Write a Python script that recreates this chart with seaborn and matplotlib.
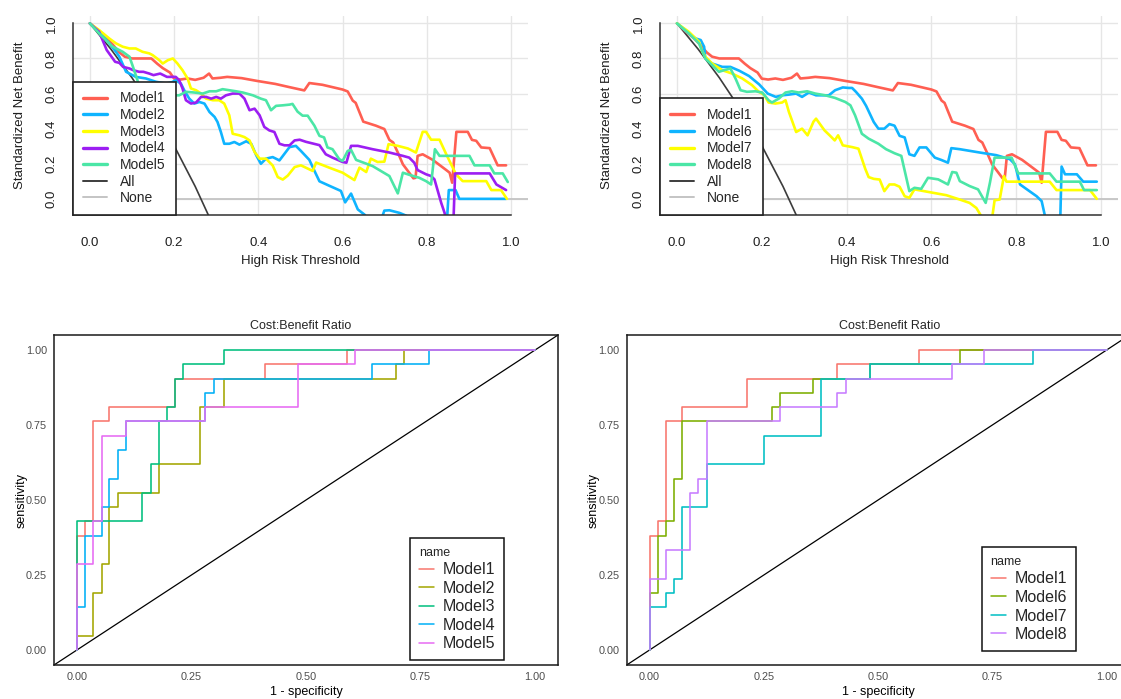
import numpy as np
import pandas as pd
import matplotlib
matplotlib.use("Agg")
import matplotlib.pyplot as plt
from matplotlib.lines import Line2D
import seaborn as sns

# ---------------- Decision curves: threshold vs standardized net benefit ----------------
m1_thr = [0, 0.02, 0.04, 0.054, 0.07, 0.083, 0.1, 0.12, 0.146, 0.16, 0.173, 0.19, 0.2, 0.215, 0.232,
          0.25, 0.27, 0.283, 0.291, 0.31, 0.326, 0.36, 0.397, 0.44, 0.473, 0.509, 0.521, 0.552, 0.6,
          0.612, 0.624, 0.631, 0.649, 0.679, 0.699, 0.711, 0.72, 0.731, 0.743, 0.758, 0.768, 0.773,
          0.778, 0.79, 0.814, 0.846, 0.854, 0.86, 0.87, 0.897, 0.907, 0.917, 0.929, 0.949, 0.968, 0.988]
m1_nb = [1.0, 0.955, 0.915, 0.88, 0.835, 0.81, 0.80, 0.80, 0.80, 0.77, 0.745, 0.72, 0.685, 0.68, 0.686,
         0.678, 0.69, 0.714, 0.686, 0.69, 0.695, 0.688, 0.672, 0.655, 0.637, 0.618, 0.66, 0.65, 0.623,
         0.612, 0.56, 0.547, 0.44, 0.417, 0.398, 0.336, 0.321, 0.264, 0.197, 0.149, 0.117, 0.12,
         0.245, 0.254, 0.222, 0.164, 0.149, 0.092, 0.382, 0.382, 0.336, 0.331, 0.293, 0.289, 0.191, 0.191]

m2_thr = [0, 0.022, 0.046, 0.062, 0.07, 0.086, 0.109, 0.133, 0.157, 0.181, 0.195, 0.204, 0.216, 0.224,
          0.236, 0.248, 0.26, 0.272, 0.284, 0.296, 0.303, 0.311, 0.319, 0.331, 0.343, 0.355, 0.371,
          0.383, 0.395, 0.406, 0.418, 0.434, 0.45, 0.462, 0.474, 0.489, 0.501, 0.521, 0.535, 0.545,
          0.568, 0.596, 0.606, 0.62, 0.636, 0.652, 0.665, 0.69, 0.699, 0.711, 0.735, 0.751, 0.76,
          0.80, 0.847, 0.852, 0.868, 0.877, 0.988]
m2_nb = [1.0, 0.952, 0.886, 0.838, 0.81, 0.724, 0.695, 0.686, 0.667, 0.657, 0.665, 0.676, 0.657, 0.619,
         0.571, 0.543, 0.552, 0.543, 0.495, 0.467, 0.438, 0.381, 0.314, 0.314, 0.324, 0.309, 0.328,
         0.314, 0.248, 0.2, 0.229, 0.238, 0.219, 0.257, 0.295, 0.302, 0.273, 0.222, 0.15, 0.10,
         0.075, 0.045, -0.02, 0.03, -0.06, -0.09, -0.13, -0.13, -0.067, -0.065, -0.08, -0.096, -0.15,
         -0.2, -0.15, 0.05, 0.05, 0.0, 0.0]

m3_thr = [0, 0.022, 0.046, 0.062, 0.078, 0.094, 0.109, 0.125, 0.141, 0.149, 0.165, 0.173, 0.185, 0.197,
          0.208, 0.22, 0.232, 0.24, 0.252, 0.264, 0.276, 0.292, 0.307, 0.319, 0.331, 0.339, 0.355,
          0.367, 0.379, 0.391, 0.403, 0.418, 0.434, 0.446, 0.458, 0.47, 0.486, 0.501, 0.529, 0.537,
          0.568, 0.6, 0.628, 0.64, 0.656, 0.667, 0.683, 0.699, 0.709, 0.731, 0.755, 0.774, 0.79,
          0.798, 0.81, 0.83, 0.846, 0.869, 0.885, 0.941, 0.953, 0.976, 0.99]
m3_nb = [1.0, 0.962, 0.914, 0.886, 0.867, 0.857, 0.857, 0.838, 0.829, 0.819, 0.79, 0.771, 0.79, 0.80,
         0.771, 0.733, 0.686, 0.629, 0.619, 0.60, 0.571, 0.562, 0.562, 0.543, 0.476, 0.371, 0.362,
         0.352, 0.333, 0.267, 0.229, 0.229, 0.19, 0.124, 0.11, 0.133, 0.181, 0.191, 0.159, 0.207,
         0.178, 0.149, 0.107, 0.178, 0.153, 0.229, 0.21, 0.212, 0.312, 0.302, 0.287, 0.264, 0.382,
         0.382, 0.337, 0.337, 0.254, 0.14, 0.101, 0.101, 0.05, 0.05, 0.0]

m4_thr = [0, 0.022, 0.04, 0.06, 0.07, 0.079, 0.094, 0.103, 0.117, 0.127, 0.141, 0.151, 0.167, 0.183,
          0.198, 0.204, 0.212, 0.22, 0.228, 0.24, 0.252, 0.264, 0.276, 0.288, 0.3, 0.311, 0.323,
          0.339, 0.355, 0.367, 0.379, 0.391, 0.403, 0.414, 0.426, 0.438, 0.45, 0.462, 0.474, 0.486,
          0.498, 0.513, 0.545, 0.56, 0.576, 0.6, 0.609, 0.62, 0.636, 0.671, 0.711, 0.743, 0.758,
          0.77, 0.778, 0.798, 0.81, 0.818, 0.826, 0.834, 0.842, 0.85, 0.862, 0.867, 0.949, 0.965, 0.988]
m4_nb = [1.0, 0.952, 0.848, 0.781, 0.775, 0.752, 0.743, 0.733, 0.724, 0.724, 0.714, 0.705, 0.714, 0.695,
         0.695, 0.695, 0.676, 0.629, 0.562, 0.543, 0.549, 0.581, 0.581, 0.571, 0.581, 0.571, 0.59,
         0.60, 0.60, 0.571, 0.505, 0.514, 0.476, 0.41, 0.39, 0.381, 0.314, 0.305, 0.305, 0.333,
         0.337, 0.325, 0.306, 0.254, 0.235, 0.21, 0.206, 0.302, 0.302, 0.283, 0.264, 0.245, 0.235,
         0.206, 0.164, 0.14, 0.13, 0.111, 0.044, -0.023, -0.08, -0.2, -0.2, 0.145, 0.145, 0.082, 0.05]

m5_thr = [0, 0.022, 0.054, 0.078, 0.094, 0.101, 0.113, 0.12, 0.15, 0.187, 0.2, 0.212, 0.228, 0.248,
          0.268, 0.284, 0.3, 0.315, 0.331, 0.347, 0.363, 0.387, 0.406, 0.418, 0.43, 0.442, 0.458,
          0.474, 0.481, 0.493, 0.505, 0.517, 0.533, 0.545, 0.556, 0.564, 0.576, 0.592, 0.6, 0.612,
          0.62, 0.632, 0.671, 0.711, 0.731, 0.743, 0.762, 0.782, 0.798, 0.81, 0.819, 0.83, 0.869,
          0.901, 0.913, 0.949, 0.96, 0.98, 0.992]
m5_nb = [1.0, 0.943, 0.867, 0.838, 0.81, 0.762, 0.676, 0.60, 0.59, 0.59, 0.59, 0.59, 0.61, 0.606, 0.60,
         0.613, 0.613, 0.625, 0.619, 0.613, 0.606, 0.59, 0.571, 0.562, 0.505, 0.53, 0.533, 0.537,
         0.541, 0.497, 0.474, 0.474, 0.417, 0.359, 0.35, 0.293, 0.283, 0.226, 0.216, 0.273, 0.279,
         0.222, 0.187, 0.13, 0.031, 0.149, 0.134, 0.12, 0.101, 0.082, 0.283, 0.245, 0.245, 0.245,
         0.191, 0.191, 0.145, 0.145, 0.096]

m6_thr = [0, 0.028, 0.044, 0.056, 0.064, 0.067, 0.083, 0.107, 0.126, 0.147, 0.17, 0.194, 0.214, 0.233,
          0.248, 0.264, 0.281, 0.295, 0.311, 0.328, 0.358, 0.373, 0.391, 0.405, 0.413, 0.422, 0.436,
          0.446, 0.464, 0.475, 0.489, 0.501, 0.513, 0.525, 0.537, 0.548, 0.56, 0.572, 0.588, 0.608,
          0.623, 0.639, 0.647, 0.667, 0.714, 0.753, 0.785, 0.797, 0.809, 0.848, 0.86, 0.868, 0.88,
          0.903, 0.907, 0.915, 0.943, 0.958, 0.99]
m6_nb = [1.0, 0.943, 0.914, 0.905, 0.867, 0.80, 0.771, 0.752, 0.752, 0.73, 0.70, 0.652, 0.60, 0.581,
         0.59, 0.594, 0.60, 0.581, 0.606, 0.59, 0.59, 0.619, 0.635, 0.632, 0.632, 0.61, 0.571, 0.53,
         0.438, 0.40, 0.40, 0.426, 0.417, 0.359, 0.35, 0.254, 0.245, 0.293, 0.293, 0.235, 0.222,
         0.206, 0.289, 0.283, 0.264, 0.249, 0.226, 0.197, 0.082, 0.015, -0.013, -0.1, -0.2, -0.2,
         0.184, 0.14, 0.14, 0.098, 0.098]

m7_thr = [0, 0.028, 0.052, 0.06, 0.067, 0.083, 0.107, 0.13, 0.154, 0.177, 0.193, 0.205, 0.216, 0.232,
          0.248, 0.256, 0.264, 0.281, 0.295, 0.308, 0.322, 0.328, 0.348, 0.36, 0.372, 0.38, 0.391,
          0.413, 0.428, 0.444, 0.452, 0.464, 0.478, 0.489, 0.501, 0.513, 0.525, 0.537, 0.548, 0.56,
          0.596, 0.635, 0.667, 0.69, 0.706, 0.718, 0.742, 0.749, 0.761, 0.771, 0.777, 0.879, 0.895,
          0.974, 0.99]
m7_nb = [1.0, 0.952, 0.895, 0.838, 0.81, 0.771, 0.733, 0.714, 0.686, 0.648, 0.61, 0.594, 0.549, 0.543,
         0.549, 0.562, 0.495, 0.381, 0.40, 0.362, 0.44, 0.457, 0.39, 0.362, 0.333, 0.362, 0.305,
         0.295, 0.286, 0.171, 0.124, 0.114, 0.11, 0.044, 0.082, 0.082, 0.069, 0.015, 0.006, 0.054,
         0.038, 0.021, -0.004, -0.023, -0.052, -0.1, -0.13, -0.008, -0.004, 0.13, 0.098, 0.098,
         0.05, 0.05, 0.0]

m8_thr = [0, 0.028, 0.052, 0.067, 0.083, 0.099, 0.111, 0.126, 0.138, 0.15, 0.165, 0.185, 0.201, 0.216,
          0.224, 0.24, 0.256, 0.271, 0.287, 0.307, 0.326, 0.35, 0.373, 0.397, 0.409, 0.42, 0.436,
          0.452, 0.475, 0.493, 0.513, 0.529, 0.548, 0.56, 0.576, 0.592, 0.616, 0.639, 0.649, 0.659,
          0.667, 0.69, 0.71, 0.728, 0.738, 0.749, 0.789, 0.805, 0.879, 0.895, 0.95, 0.96, 0.99]
m8_nb = [1.0, 0.943, 0.886, 0.80, 0.762, 0.724, 0.733, 0.743, 0.686, 0.619, 0.61, 0.613, 0.606, 0.562,
         0.549, 0.571, 0.606, 0.613, 0.606, 0.613, 0.60, 0.59, 0.575, 0.552, 0.533, 0.476, 0.371,
         0.343, 0.314, 0.283, 0.26, 0.245, 0.044, 0.063, 0.057, 0.12, 0.111, 0.082, 0.153, 0.149,
         0.101, 0.073, 0.054, -0.023, 0.092, 0.235, 0.235, 0.145, 0.145, 0.098, 0.098, 0.05, 0.05]

# treat-all reference curve
all_thr = [0, 0.05, 0.1, 0.15, 0.2, 0.25, 0.3]
all_nb = [1.0, 0.853, 0.69, 0.508, 0.303, 0.071, -0.19]
none_nb = 0.0

# ---------------- ROC curves: (1 - specificity, sensitivity) step paths ----------------
r1_fpr = [0, 0, 0.018, 0.018, 0.036, 0.036, 0.071, 0.071, 0.214, 0.214, 0.411, 0.411, 0.589, 0.589, 1.0]
r1_tpr = [0, 0.381, 0.381, 0.429, 0.429, 0.762, 0.762, 0.810, 0.810, 0.905, 0.905, 0.952, 0.952, 1.0, 1.0]

r2_fpr = [0, 0, 0.036, 0.036, 0.054, 0.054, 0.071, 0.071, 0.089, 0.089, 0.179, 0.179, 0.268, 0.268,
          0.321, 0.321, 0.696, 0.696, 0.714, 0.714, 1.0]
r2_tpr = [0, 0.048, 0.048, 0.190, 0.190, 0.286, 0.286, 0.476, 0.476, 0.524, 0.524, 0.619, 0.619, 0.810,
          0.810, 0.905, 0.905, 0.952, 0.952, 1.0, 1.0]

r3_fpr = [0, 0, 0.143, 0.143, 0.161, 0.161, 0.179, 0.179, 0.196, 0.196, 0.214, 0.214, 0.232, 0.232,
          0.321, 0.321, 1.0]
r3_tpr = [0, 0.429, 0.429, 0.524, 0.524, 0.619, 0.619, 0.762, 0.762, 0.810, 0.810, 0.905, 0.905, 0.952,
          0.952, 1.0, 1.0]

r4_fpr = [0, 0, 0.018, 0.018, 0.054, 0.054, 0.071, 0.071, 0.089, 0.089, 0.107, 0.107, 0.28, 0.28,
          0.30, 0.30, 0.643, 0.643, 0.768, 0.768, 1.0]
r4_tpr = [0, 0.143, 0.143, 0.381, 0.381, 0.476, 0.476, 0.571, 0.571, 0.667, 0.667, 0.762, 0.762, 0.857,
          0.857, 0.905, 0.905, 0.952, 0.952, 1.0, 1.0]

r5_fpr = [0, 0, 0.036, 0.036, 0.054, 0.054, 0.107, 0.107, 0.28, 0.28, 0.482, 0.482, 0.607, 0.607, 1.0]
r5_tpr = [0, 0.286, 0.286, 0.429, 0.429, 0.714, 0.714, 0.762, 0.762, 0.810, 0.810, 0.952, 0.952, 1.0, 1.0]

r6_fpr = [0, 0, 0.018, 0.018, 0.036, 0.036, 0.054, 0.054, 0.071, 0.071, 0.268, 0.268, 0.286, 0.286,
          0.357, 0.357, 0.482, 0.482, 0.679, 0.679, 1.0]
r6_tpr = [0, 0.190, 0.190, 0.381, 0.381, 0.429, 0.429, 0.571, 0.571, 0.762, 0.762, 0.810, 0.810, 0.857,
          0.857, 0.905, 0.905, 0.952, 0.952, 1.0, 1.0]

r7_fpr = [0, 0, 0.036, 0.036, 0.054, 0.054, 0.071, 0.071, 0.125, 0.125, 0.25, 0.25, 0.375, 0.375,
          0.482, 0.482, 0.839, 0.839, 1.0]
r7_tpr = [0, 0.143, 0.143, 0.190, 0.190, 0.238, 0.238, 0.476, 0.476, 0.619, 0.619, 0.714, 0.714, 0.905,
          0.905, 0.952, 0.952, 1.0, 1.0]

r8_fpr = [0, 0, 0.036, 0.036, 0.089, 0.089, 0.107, 0.107, 0.125, 0.125, 0.286, 0.286, 0.411, 0.411,
          0.429, 0.429, 0.661, 0.661, 0.732, 0.732, 1.0]
r8_tpr = [0, 0.238, 0.238, 0.333, 0.333, 0.524, 0.524, 0.571, 0.571, 0.762, 0.762, 0.810, 0.810, 0.857,
          0.857, 0.905, 0.905, 0.952, 0.952, 1.0, 1.0]

tick_dca = [0.0, 0.2, 0.4, 0.6, 0.8, 1.0]
tick_dca_labels = ["0.0", "0.2", "0.4", "0.6", "0.8", "1.0"]
tick_roc = [0.0, 0.25, 0.5, 0.75, 1.0]
tick_roc_labels = ["0.00", "0.25", "0.50", "0.75", "1.00"]

# ---------------- style ----------------
sns.set_style("white")
plt.rcParams["font.family"] = ["Liberation Sans", "DejaVu Sans"]

dca_colors = {"Model1": "#FF5F52", "Model2": "#0FB4FF", "Model3": "#FFFF00", "Model4": "#9C1EF2",
              "Model5": "#4BE6A6", "Model6": "#0FB4FF", "Model7": "#FFFF00", "Model8": "#4BE6A6"}
all_color = "#3C3C3C"
none_color = "#C4C4C4"
grid_color = "#E6E6E6"

W, H = 1121, 699
fig = plt.figure(figsize=(W / 100, H / 100), dpi=100)


def axes_px(left, top, right, bottom):
    return fig.add_axes([left / W, 1 - bottom / H, (right - left) / W, (bottom - top) / H])


def dca_frame(names, series):
    parts = [pd.DataFrame({"threshold": t, "snb": v, "model": n}) for n, (t, v) in zip(names, series)]
    return pd.concat(parts, ignore_index=True)


def draw_dca(ax, names, series):
    ax.set_xlim(-0.04, 1.04)
    ax.set_ylim(-0.092, 1.042)
    for v in tick_dca:
        ax.axvline(v, color=grid_color, lw=1.0, zorder=0)
        ax.axhline(v, color=grid_color, lw=1.0, zorder=0)
    ax.axhline(none_nb, color=none_color, lw=1.3, zorder=1)
    sns.lineplot(x=all_thr, y=all_nb, color=all_color, lw=1.2, ax=ax, zorder=1)
    df = dca_frame(names, series)
    sns.lineplot(data=df, x="threshold", y="snb", hue="model", hue_order=names,
                 palette={n: dca_colors[n] for n in names}, sort=False, estimator=None,
                 lw=1.9, legend=False, ax=ax, zorder=2)
    for s in ["top", "right"]:
        ax.spines[s].set_visible(False)
    for s in ["left", "bottom"]:
        ax.spines[s].set_color("#303030")
        ax.spines[s].set_linewidth(1.1)
    ax.spines["left"].set_bounds(-0.092, 1.0)
    ax.spines["bottom"].set_bounds(-0.04, 1.0)
    ax.set_xticks(tick_dca)
    ax.set_xticklabels(tick_dca_labels)
    ax.set_yticks(tick_dca)
    ax.set_yticklabels(tick_dca_labels, rotation=90, va="center")
    ax.tick_params(axis="both", direction="out", length=6, width=1.0, color="#303030",
                   labelsize=9.5, labelcolor="#1E1E1E")
    ax.tick_params(axis="x", pad=9.5)
    ax.tick_params(axis="y", pad=5)
    ax.set_xlabel("High Risk Threshold", fontsize=9.5, color="#1E1E1E", labelpad=4.5)
    ax.set_ylabel("Standardized Net Benefit", fontsize=9.5, color="#1E1E1E", labelpad=14)
    handles = [Line2D([], [], color=dca_colors[n], lw=2.4) for n in names]
    handles += [Line2D([], [], color=all_color, lw=1.4), Line2D([], [], color=none_color, lw=1.4)]
    leg = ax.legend(handles, names + ["All", "None"], loc="lower left", bbox_to_anchor=(0, 0),
                    borderaxespad=0, frameon=True, fancybox=False, framealpha=1,
                    edgecolor="#222222", fontsize=10, handlelength=1.75, handletextpad=0.95,
                    labelspacing=0.19, borderpad=0.7)
    leg.get_frame().set_linewidth(1.2)
    leg.set_zorder(5)


def roc_frame(names, paths):
    parts = [pd.DataFrame({"fpr": f, "tpr": t, "name": n}) for n, (f, t) in zip(names, paths)]
    return pd.concat(parts, ignore_index=True)


def draw_roc(ax, names, paths, colors, title_x):
    ax.set_xlim(-0.05, 1.05)
    ax.set_ylim(-0.05, 1.05)
    ax.axline((0, 0), slope=1, color="black", lw=0.9, zorder=1)
    df = roc_frame(names, paths)
    sns.lineplot(data=df, x="fpr", y="tpr", hue="name", hue_order=names,
                 palette=dict(zip(names, colors)), sort=False, estimator=None,
                 lw=1.15, ax=ax, zorder=2)
    for s in ax.spines.values():
        s.set_visible(True)
        s.set_color("#1A1A1A")
        s.set_linewidth(1.1)
    ax.set_xticks(tick_roc)
    ax.set_xticklabels(tick_roc_labels)
    ax.set_yticks(tick_roc)
    ax.set_yticklabels(tick_roc_labels)
    ax.tick_params(axis="both", direction="out", length=3, width=0.8, color="#333333",
                   labelsize=7.8, labelcolor="#4D4D4D", pad=2)
    ax.set_xlabel("1 - specificity", fontsize=9, color="black", labelpad=3)
    ax.set_ylabel("sensitivity", fontsize=9, color="black", labelpad=-1)
    ax.set_title("Cost:Benefit Ratio", fontsize=9, x=title_x, pad=4)
    handles = [Line2D([], [], color=c, lw=1.1) for c in colors]
    leg = ax.legend(handles, names, title="name", loc="center", bbox_to_anchor=(0.8, 0.2),
                    frameon=True, fancybox=False, framealpha=1, edgecolor="#111111",
                    fontsize=11.5, title_fontsize=9, alignment="left", handlelength=0.95,
                    handletextpad=0.55, labelspacing=0.22, borderpad=0.55)
    leg.get_frame().set_linewidth(1.1)


ax_tl = axes_px(73, 16, 528, 215)
ax_tr = axes_px(660, 16, 1118, 215)
ax_bl = axes_px(54, 335, 558, 665)
ax_br = axes_px(626.7, 335, 1129.5, 665)

draw_dca(ax_tl, ["Model1", "Model2", "Model3", "Model4", "Model5"],
         [(m1_thr, m1_nb), (m2_thr, m2_nb), (m3_thr, m3_nb), (m4_thr, m4_nb), (m5_thr, m5_nb)])
draw_dca(ax_tr, ["Model1", "Model6", "Model7", "Model8"],
         [(m1_thr, m1_nb), (m6_thr, m6_nb), (m7_thr, m7_nb), (m8_thr, m8_nb)])

draw_roc(ax_bl, ["Model1", "Model2", "Model3", "Model4", "Model5"],
         [(r1_fpr, r1_tpr), (r2_fpr, r2_tpr), (r3_fpr, r3_tpr), (r4_fpr, r4_tpr), (r5_fpr, r5_tpr)],
         ["#F8766D", "#A3A500", "#00BF7D", "#00B0F6", "#E76BF3"], 0.49)
draw_roc(ax_br, ["Model1", "Model6", "Model7", "Model8"],
         [(r1_fpr, r1_tpr), (r6_fpr, r6_tpr), (r7_fpr, r7_tpr), (r8_fpr, r8_tpr)],
         ["#F8766D", "#7CAE00", "#00BFC4", "#C77CFF"], 0.522)

fig.savefig("out.png", dpi=100, facecolor="white")
